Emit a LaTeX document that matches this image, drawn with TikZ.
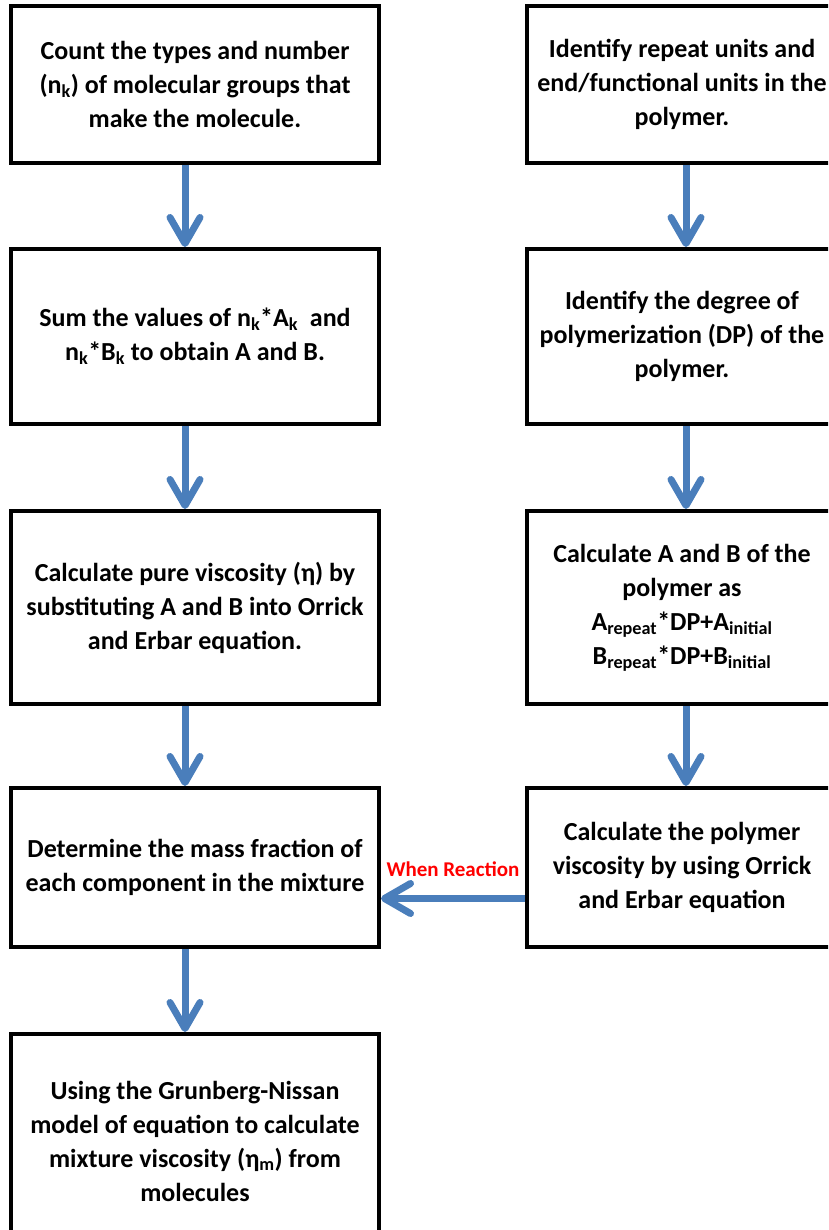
\documentclass[tikz,border=0pt]{standalone}
\usepackage{fontspec}
\setmainfont{Carlito}
\usetikzlibrary{arrows.meta,positioning}
\definecolor{flowblue}{RGB}{74,126,187}

\begin{document}
\begin{tikzpicture}[x=1pt,y=-1pt,
    stepbox/.style={draw, line width=4pt, align=center, inner sep=0pt,
      font=\fontsize{26}{34}\selectfont\bfseries},
    flow/.style={draw=flowblue, line width=7pt,
      -{Straight Barb[length=26pt,width=30pt,round]}}]
        % page size of the reference
        \clip (0,0) rectangle (828,1230);
        % column centres and box widths
        \pgfmathsetmacro{\Lx}{195}
        \pgfmathsetmacro{\Rx}{682}
        \pgfmathsetmacro{\Lw}{368}
        \pgfmathsetmacro{\Rw}{310}

        % left column: small molecules
        \node[stepbox, minimum width=\Lw pt, minimum height=157pt] (count) at (\Lx,84.5)
          {Count the types and number\\(n\textsubscript{k}) of molecular groups that\\make the molecule.};
        \node[stepbox, minimum width=\Lw pt, minimum height=175pt] (sum) at (\Lx,336.5)
          {Sum the values of n\textsubscript{k}*A\textsubscript{k}\ \ and\\n\textsubscript{k}*B\textsubscript{k} to obtain A and B.};
        \node[stepbox, minimum width=\Lw pt, minimum height=193pt] (pure) at (\Lx,607.5)
          {Calculate pure viscosity (η) by\\substituting A and B into Orrick\\and Erbar equation.};
        \node[stepbox, minimum width=\Lw pt, minimum height=159pt] (mass) at (\Lx,867.5)
          {Determine the mass fraction of\\each component in the mixture};
        \node[stepbox, minimum width=\Lw pt, minimum height=214pt] (mix) at (\Lx,1141)
          {Using the Grunberg-Nissan\\model of equation to calculate\\mixture viscosity (η\textsubscript{m}) from\\molecules};

        % right column: polymer
        \node[stepbox, minimum width=\Rw pt, minimum height=157pt] (units) at (\Rx,84.5)
          {Identify repeat units and\\end/functional units in the\\polymer.};
        \node[stepbox, minimum width=\Rw pt, minimum height=175pt] (dp) at (\Rx,336.5)
          {Identify the degree of\\polymerization (DP) of the\\polymer.};
        \node[stepbox, minimum width=\Rw pt, minimum height=193pt] (polyab) at (\Rx,607.5)
          {Calculate A and B of the\\polymer as\\A\textsubscript{repeat}*DP+A\textsubscript{initial}\\B\textsubscript{repeat}*DP+B\textsubscript{initial}};
        \node[stepbox, minimum width=\Rw pt, minimum height=159pt] (polyvisc) at (\Rx,867.5)
          {Calculate the polymer\\viscosity by using Orrick\\and Erbar equation};

        % arrows
        \draw[flow] ([xshift=-10pt]count.south) -- ([xshift=-10pt]sum.north);
        \draw[flow] ([xshift=-10pt]sum.south) -- ([xshift=-10pt]pure.north);
        \draw[flow] ([xshift=-10pt]pure.south) -- ([xshift=-10pt]mass.north);
        \draw[flow] ([xshift=-10pt]mass.south) -- ([xshift=-10pt]mix.north);
        \draw[flow] ([xshift=4pt]units.south) -- ([xshift=4pt]dp.north);
        \draw[flow] ([xshift=4pt]dp.south) -- ([xshift=4pt]polyab.north);
        \draw[flow] ([xshift=4pt]polyab.south) -- ([xshift=4pt]polyvisc.north);
        \draw[flow] ([yshift=-31pt]polyvisc.west) -- ([yshift=-31pt]mass.east);
        \node[red, font=\fontsize{21}{24}\selectfont\bfseries] (when) at (453,869) {When Reaction};
    \end{tikzpicture}
\end{document}
